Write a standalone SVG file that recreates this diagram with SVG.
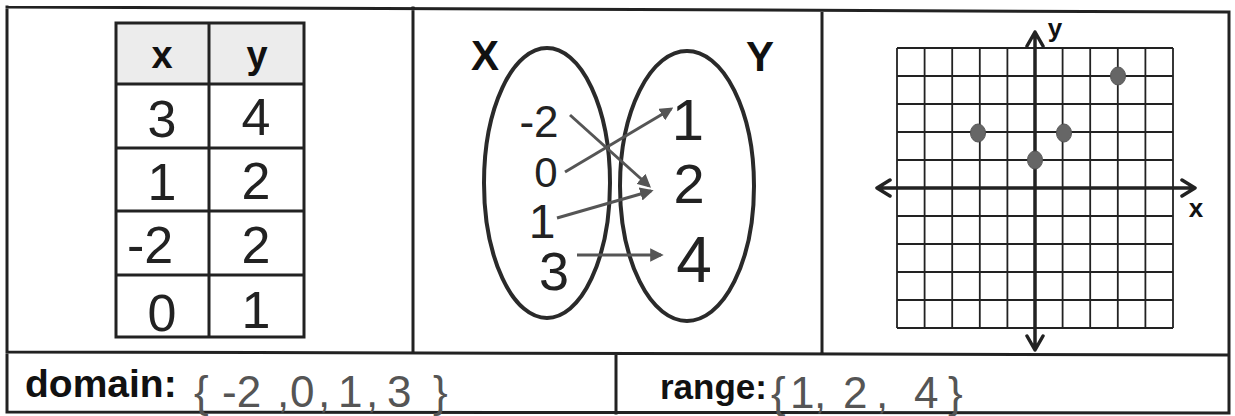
<svg xmlns="http://www.w3.org/2000/svg" width="1235" height="416" viewBox="0 0 1235 416">
<style>
.frame{stroke:#222;stroke-width:3;fill:none;stroke-linecap:square}
.tbl{stroke:#222;stroke-width:3;fill:none}
.bold{font-family:"Liberation Sans",Arial,sans-serif;font-weight:bold;fill:#111}
.hand{font-family:"Liberation Sans",Arial,sans-serif;font-weight:300;fill:#222;text-anchor:middle}
.hand2{font-family:"Liberation Sans",Arial,sans-serif;font-weight:300;fill:#555}
.ell{stroke:#2a2a2a;stroke-width:4;fill:none}
.arr{stroke:#555;stroke-width:3;fill:none;marker-end:url(#ah)}
.grid{stroke:#222;stroke-width:1.8;fill:none}
.axis{stroke:#222;stroke-width:3.5;fill:none;stroke-linecap:round;stroke-linejoin:round}
.pt{fill:#666;stroke:#555;stroke-width:1}
</style>
<defs>
<marker id="ah" viewBox="0 0 10 10" refX="8" refY="5" markerWidth="4.5" markerHeight="4.5" orient="auto" markerUnits="strokeWidth">
<path d="M0,0 L10,5 L0,10 Z" fill="#555"/>
</marker>
</defs>
<rect width="1235" height="416" fill="#fff"/>

<g id="frame">
<path class="frame" d="M7,7 L1229,12 M7,352 L1229,355 M7,412 L1229,413 M7,7 L7,412 M1229,12 L1229,413 M413,8 L413,353 M822,11 L822,354 M616,354 L616,413"/>
</g>

<g id="table">
<rect x="116" y="23" width="188" height="61" fill="#ececec"/>
<path class="tbl" d="M116,23 H304 V337 H116 Z M209,23 V337 M116,84 H304 M116,148 H304 M116,211 H304 M116,275 H304"/>
<text class="bold" x="162" y="68" font-size="38" text-anchor="middle">x</text>
<text class="bold" x="257" y="68" font-size="38" text-anchor="middle">y</text>
<text class="hand" x="162" y="137" font-size="52">3</text>
<text class="hand" x="256" y="135" font-size="52">4</text>
<text class="hand" x="162" y="200" font-size="52">1</text>
<text class="hand" x="256" y="199" font-size="52">2</text>
<text class="hand" x="150" y="263" font-size="52">-2</text>
<text class="hand" x="256" y="263" font-size="52">2</text>
<text class="hand" x="162" y="331" font-size="52">0</text>
<text class="hand" x="256" y="328" font-size="52">1</text>
</g>

<g id="set-x">
<ellipse class="ell" cx="547" cy="183" rx="63" ry="135"/>
<text class="bold" x="485" y="70" font-size="42" text-anchor="middle">X</text>
<text class="hand" x="539" y="137" font-size="44">-2</text>
<text class="hand" x="546" y="187" font-size="42">0</text>
<text class="hand" x="542" y="238" font-size="48">1</text>
<text class="hand" x="554" y="290" font-size="54">3</text>
</g>

<g id="set-y">
<ellipse class="ell" cx="687" cy="186" rx="67" ry="135"/>
<text class="bold" x="760" y="71" font-size="42" text-anchor="middle">Y</text>
<text class="hand" x="688" y="140" font-size="58">1</text>
<text class="hand" x="689" y="203" font-size="56">2</text>
<text class="hand" x="694" y="282" font-size="64">4</text>
</g>

<g id="connectors">
<path class="arr" d="M570,115 L649,186"/>
<path class="arr" d="M565,172 L671,109"/>
<path class="arr" d="M557,218 L651,191"/>
<path class="arr" d="M577,255 L661,255"/>
</g>

<g id="graph">
<path class="grid" d="M897,48 V328 M924.6,48 V328 M952.2,48 V328 M979.8,48 V328 M1007.4,48 V328 M1062.6,48 V328 M1090.2,48 V328 M1117.8,48 V328 M1145.4,48 V328 M1173,48 V328 M897,48 H1173 M897,76 H1173 M897,104 H1173 M897,132 H1173 M897,160 H1173 M897,216 H1173 M897,244 H1173 M897,272 H1173 M897,300 H1173 M897,328 H1173"/>
<path class="axis" d="M1035,32 V350 M877,188 H1195 M1027,46 L1035,32 L1043,46 M1027,336 L1035,350 L1043,336 M890,180 L877,188 L890,196 M1182,180 L1195,188 L1182,196"/>
<text class="bold" x="1055" y="37" font-size="26" text-anchor="middle">y</text>
<text class="bold" x="1196" y="217" font-size="26" text-anchor="middle">x</text>
<ellipse class="pt" cx="978" cy="133" rx="7.5" ry="9"/>
<ellipse class="pt" cx="1035" cy="160" rx="7.5" ry="9"/>
<ellipse class="pt" cx="1064" cy="133" rx="7.5" ry="9"/>
<ellipse class="pt" cx="1118" cy="76" rx="7.5" ry="9"/>
</g>

<g id="domain">
<text class="bold" x="25" y="397" font-size="39">domain:</text>
<text class="hand2" y="407" font-size="44"><tspan x="194">{</tspan><tspan x="222">-2</tspan><tspan x="277">,</tspan><tspan x="290">0</tspan><tspan x="318">,</tspan><tspan x="338">1</tspan><tspan x="366">,</tspan><tspan x="387">3</tspan><tspan x="433">}</tspan></text>
</g>

<g id="range">
<text class="bold" x="660" y="399" font-size="35">range:</text>
<text class="hand2" y="408" font-size="44"><tspan x="771">{</tspan><tspan x="790">1</tspan><tspan x="814">,</tspan><tspan x="843">2</tspan><tspan x="876">,</tspan><tspan x="914">4</tspan><tspan x="948">}</tspan></text>
</g>
</svg>
